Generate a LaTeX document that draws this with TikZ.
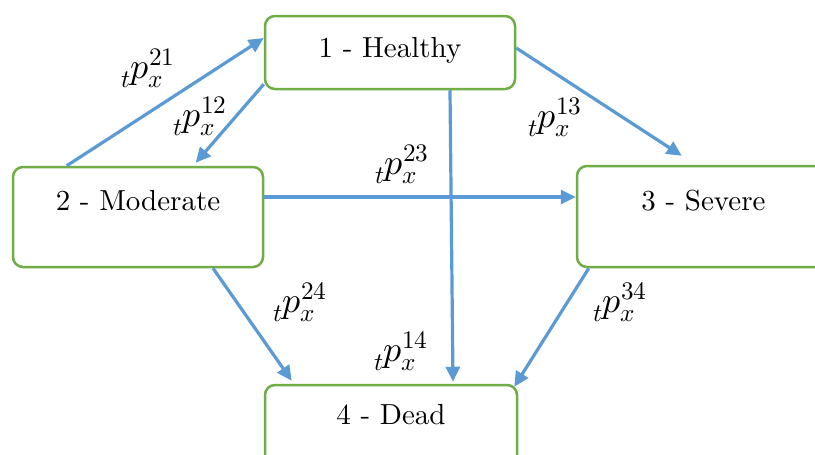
\documentclass[tikz,border=0pt]{standalone}
\usepackage{fontspec}
\usepackage{unicode-math}
\newfontfamily\boxfont{lmroman10-regular}[Extension=.otf]
\usetikzlibrary{arrows.meta}
\definecolor{arrblue}{HTML}{5B9BD5}
\definecolor{boxgreen}{HTML}{70AD47}
\tikzset{
  statebox/.style={draw=boxgreen, line width=2.5pt, rounded corners=10pt, fill=white,
    inner sep=0pt, text height=22pt, font=\boxfont\fontsize{29}{34}\selectfont},
  trans/.style={draw=arrblue, line width=3.2pt, -{Triangle[length=15pt,width=14pt]}},
  prob/.style={inner sep=0pt, font=\fontsize{36}{42}\selectfont}
}
\begin{document}
\begin{tikzpicture}[x=1pt,y=-1pt]
\clip (0,0) rectangle (815,455);
\fill[white] (0,0) rectangle (815,455);
\node[statebox, minimum width=250pt, minimum height=73pt, text depth=11.5pt] (hea) at (390,52.5) {1 - Healthy};
\node[statebox, minimum width=250pt, minimum height=100pt, text depth=34.5pt] (mod) at (138,217) {2 - Moderate};
\node[statebox, minimum width=253pt, minimum height=101pt, text depth=34pt] (sev) at (703.5,216.5) {3 - Severe};
\node[statebox, minimum width=252pt, minimum height=110pt, text depth=52.5pt] (dead) at (391,440) {4 - Dead};

\draw[trans] ([xshift=55pt]mod.north west) -- ([yshift=14.5pt]hea.west);
\draw[trans] ([yshift=6pt]hea.south west) -- ([xshift=184pt,yshift=3pt]mod.north west);
\draw[trans] ([yshift=4.5pt]hea.east) -- ([xshift=106pt,yshift=9pt]sev.north west);
\draw[trans] ([yshift=20pt]mod.east) -- ([yshift=20pt]mod.east -| sev.west);
\draw[trans] ([xshift=60pt]hea.south) -- ([xshift=62pt,yshift=2pt]dead.north);
\draw[trans] ([xshift=75pt]mod.south) -- ([xshift=28pt,yshift=3pt]dead.north west);
\draw[trans] ([xshift=13pt]sev.south west) -- ([xshift=-4pt,yshift=-3pt]dead.north east);

\node[prob] (l21) at (148,68) {$_t p_x^{21}$};
\node[prob] (l12) at (200,116) {$_t p_x^{12}$};
\node[prob] (l13) at (555,117) {$_t p_x^{13}$};
\node[prob] (l23) at (402,164) {$_t p_x^{23}$};
\node[prob] (l24) at (300,302) {$_t p_x^{24}$};
\node[prob] (l14) at (401,351) {$_t p_x^{14}$};
\node[prob] (l34) at (620,302) {$_t p_x^{34}$};
\end{tikzpicture}
\end{document}
